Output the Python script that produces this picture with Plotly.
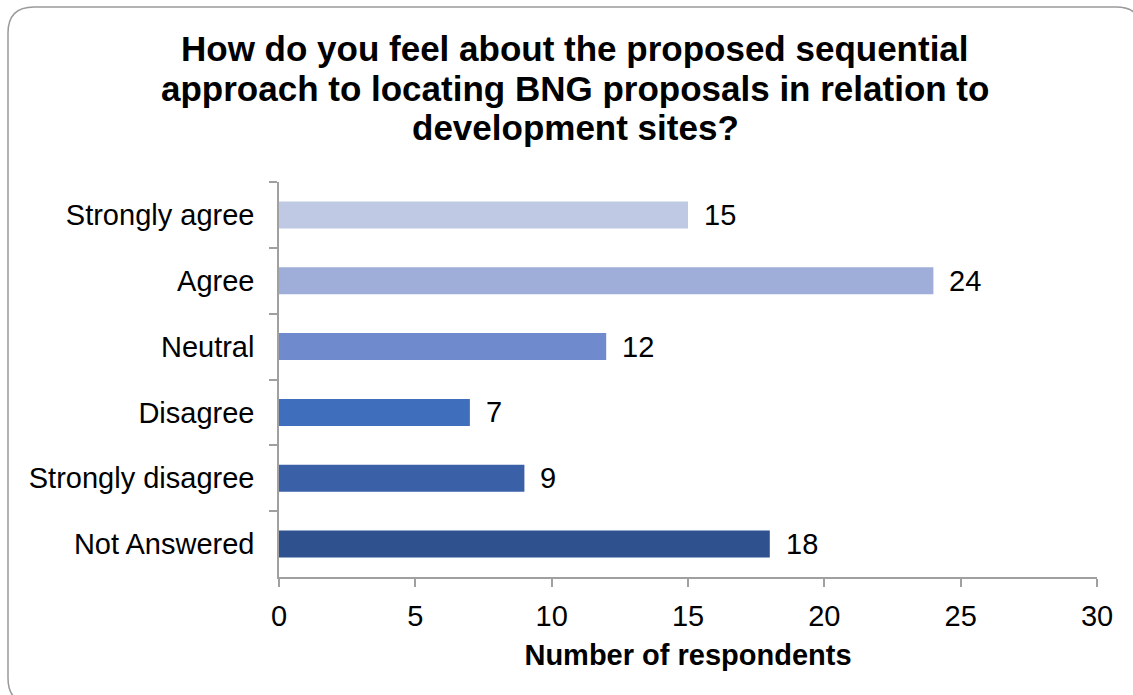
import plotly.graph_objects as go

# Survey responses, top to bottom
categories = ["Strongly agree", "Agree", "Neutral", "Disagree", "Strongly disagree", "Not Answered"]
counts = [15, 24, 12, 7, 9, 18]
bar_colors = ["#BFC9E3", "#9FAED8", "#6F8BCE", "#3F6EBD", "#3A60A8", "#2F528F"]

x_ticks = [0, 5, 10, 15, 20, 25, 30]

title_lines = [
    "How do you feel about the proposed sequential",
    "approach to locating BNG proposals in relation to",
    "development sites?",
]

W, H = 1133, 695
ML, MR, MT, MB = 279, 36, 182, 118
PW, PH = W - ML - MR, H - MT - MB

FONT = "Liberation Sans, Arial, sans-serif"
AXIS_GRAY = "#A0A0A0"
TICK_SIZE = 29

fig = go.Figure(
    go.Bar(
        y=categories,
        x=counts,
        orientation="h",
        marker=dict(color=bar_colors, line=dict(width=0)),
        hoverinfo="x+y",
    )
)

# value labels just past each bar end
for cat, val in zip(categories, counts):
    fig.add_annotation(
        x=val, y=cat, text=str(val), showarrow=False,
        xanchor="left", yanchor="middle", xshift=14,
        font=dict(family=FONT, size=TICK_SIZE, color="#000000"),
    )


def px_to_paper(px, py):
    return (px - ML) / PW, (MT + PH - py) / PH


# chart title, one line per annotation for tighter leading
for i, line in enumerate(title_lines):
    tx, ty = px_to_paper(575, 48 + 40 * i)
    fig.add_annotation(
        x=tx, y=ty, xref="paper", yref="paper", text="<b>%s</b>" % line,
        showarrow=False, xanchor="center", yanchor="middle",
        font=dict(family=FONT, size=35, color="#000000"),
    )

# rounded outer frame
x0, y0, x1, y1, r = 8, 7, 1142, 704, 26
pts = [
    ("M", [(x0 + r, y0)]),
    ("L", [(x1 - r, y0)]),
    ("Q", [(x1, y0), (x1, y0 + r)]),
    ("L", [(x1, y1 - r)]),
    ("Q", [(x1, y1), (x1 - r, y1)]),
    ("L", [(x0 + r, y1)]),
    ("Q", [(x0, y1), (x0, y1 - r)]),
    ("L", [(x0, y0 + r)]),
    ("Q", [(x0, y0), (x0 + r, y0)]),
]
path = ""
for cmd, coords in pts:
    path += cmd + " ".join("%.5f,%.5f" % px_to_paper(a, b) for a, b in coords) + " "
path += "Z"
fig.add_shape(type="path", path=path, xref="paper", yref="paper",
              line=dict(color="#9A9A9A", width=1.5), layer="below")

fig.update_layout(
    width=W, height=H,
    margin=dict(l=ML, r=MR, t=MT, b=MB, pad=0),
    paper_bgcolor="white", plot_bgcolor="white",
    bargap=0.59,
    showlegend=False,
    font=dict(family=FONT, color="#000000"),
)

fig.update_xaxes(
    range=[0, 30], tickvals=x_ticks, ticktext=[str(v) for v in x_ticks],
    showgrid=False, zeroline=False,
    showline=True, linecolor=AXIS_GRAY, linewidth=1.5,
    ticks="outside", ticklen=8, tickwidth=1.5, tickcolor=AXIS_GRAY,
    ticklabelstandoff=4,
    tickfont=dict(family=FONT, size=TICK_SIZE, color="#000000"),
    title=dict(text="<b>Number of respondents</b>", standoff=14,
               font=dict(family=FONT, size=TICK_SIZE, color="#000000")),
    fixedrange=True,
)

fig.update_yaxes(
    autorange="reversed",
    categoryorder="array", categoryarray=categories,
    showgrid=False, zeroline=False,
    showline=True, linecolor=AXIS_GRAY, linewidth=1.5,
    ticks="outside", tickson="boundaries", ticklen=8, tickwidth=1.5, tickcolor=AXIS_GRAY,
    ticklabelstandoff=17,
    tickfont=dict(family=FONT, size=TICK_SIZE, color="#000000"),
    fixedrange=True,
)

fig.write_html("out.html", config={"displayModeBar": False})
